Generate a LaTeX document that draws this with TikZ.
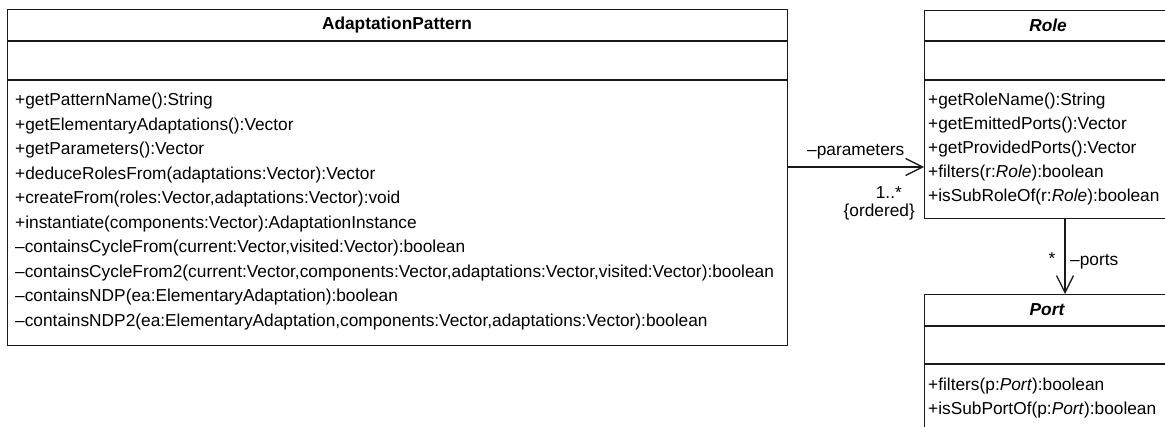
\documentclass[tikz,border=0pt]{standalone}
\usepackage{fontspec}
\setmainfont{Liberation Sans}
\usetikzlibrary{arrows.meta,calc}
\begin{document}
\begin{tikzpicture}[x=1pt,y=-1pt,
  umlbox/.style={draw=black!90, line width=1.3pt, inner sep=0pt, anchor=north west},
  divider/.style={draw=black!90, line width=1.3pt},
  member/.style={anchor=west, inner sep=0pt, font=\fontsize{17.3}{20}\selectfont},
  classtitle/.style={inner sep=0pt, font=\fontsize{17.3}{20}\selectfont\bfseries},
  lbl/.style={inner sep=0pt, font=\fontsize{17.3}{20}\selectfont},
  assoc/.style={draw=black!90, line width=1.3pt, -{Straight Barb[length=17pt,width=17pt,line width=1.3pt]}}]
\useasboundingbox (0,0) rectangle (1165,426);
\clip (0,0) rectangle (1165,426);
% boxes
\node[umlbox, minimum width=780pt, minimum height=336pt] (ap) at (7,9) {};
\node[umlbox, minimum width=250pt, minimum height=208pt] (role) at (924,10) {};
\node[umlbox, minimum width=250pt, minimum height=200pt] (port) at (924,294) {};
% dividers
\draw[divider] ($(ap.north west)+(0,32)$) -- ($(ap.north east)+(0,32)$);
\draw[divider] ($(ap.north west)+(0,71)$) -- ($(ap.north east)+(0,71)$);
\draw[divider] ($(role.north west)+(0,31)$) -- ($(role.north east)+(0,31)$);
\draw[divider] ($(role.north west)+(0,70)$) -- ($(role.north east)+(0,70)$);
\draw[divider] ($(port.north west)+(0,32)$) -- ($(port.north east)+(0,32)$);
\draw[divider] ($(port.north west)+(0,70)$) -- ($(port.north east)+(0,70)$);
% titles
\node[classtitle] (aptitle) at (397,25) {AdaptationPattern};
\node[classtitle] (roletitle) at (1048,25) {\itshape Role};
\node[classtitle] (porttitle) at (1047,310) {\itshape Port};
% AdaptationPattern members
\node[member] (ap1) at (15,101.5) {+getPatternName():String};
\node[member] (ap2) at (15,126) {+getElementaryAdaptations():Vector};
\node[member] (ap3) at (15,150.5) {+getParameters():Vector};
\node[member] (ap4) at (15,175) {+deduceRolesFrom(adaptations:Vector):Vector};
\node[member] (ap5) at (15,199.5) {+createFrom(roles:Vector,adaptations:Vector):void};
\node[member] (ap6) at (15,224) {+instantiate(components:Vector):AdaptationInstance};
\node[member] (ap7) at (15,248.5) {–containsCycleFrom(current:Vector,visited:Vector):boolean};
\node[member] (ap8) at (15,273) {–containsCycleFrom2(current:Vector,components:Vector,adaptations:Vector,visited:Vector):boolean};
\node[member] (ap9) at (15,297.5) {–containsNDP(ea:ElementaryAdaptation):boolean};
\node[member] (ap10) at (15,322) {–containsNDP2(ea:ElementaryAdaptation,components:Vector,adaptations:Vector):boolean};
% Role members
\node[member] (r1) at (928,101.5) {+getRoleName():String};
\node[member] (r2) at (928,125.5) {+getEmittedPorts():Vector};
\node[member] (r3) at (928,149.5) {+getProvidedPorts():Vector};
\node[member] (r4) at (928,173.5) {+filters(r:\textit{Role}):boolean};
\node[member] (r5) at (928,197.5) {+isSubRoleOf(r:\textit{Role}):boolean};
% Port members
\node[member] (p1) at (928,386) {+filters(p:\textit{Port}):boolean};
\node[member] (p2) at (928,410) {+isSubPortOf(p:\textit{Port}):boolean};
% association parameters
\coordinate (pa) at (787,167);
\draw[assoc] (pa) -- (pa -| role.west);
\node[lbl, anchor=west] (lparam) at (807,152) {–parameters};
\node[lbl, anchor=east] (lmult) at (902,193) {1..*};
\node[lbl, anchor=east] (lord) at (915,212) {\{ordered\}};
% association ports
\coordinate (pb) at (1065,218);
\draw[assoc] (pb) -- (pb |- port.north);
\node[lbl] (lstar) at (1052,259) {*};
\node[lbl, anchor=west] (lports) at (1070,262) {–ports};
\end{tikzpicture}
\end{document}
